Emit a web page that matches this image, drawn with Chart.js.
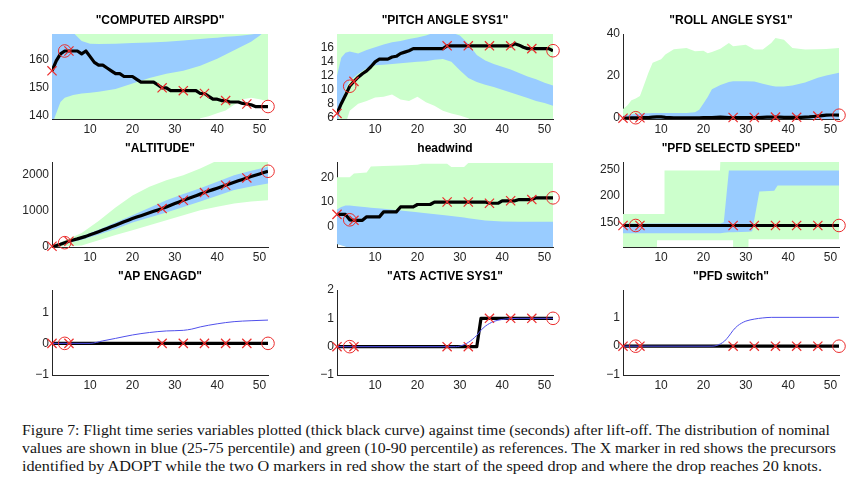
<!DOCTYPE html>
<html><head><meta charset="utf-8">
<script src="https://cdn.jsdelivr.net/npm/chart.js@4.4.1/dist/chart.umd.min.js"></script>
<style>
html,body{margin:0;padding:0;background:#fff;overflow:hidden;}
body{width:865px;height:483px;position:relative;}
#caption{position:absolute;left:22px;top:421px;font-family:"Liberation Serif","DejaVu Serif",serif;font-size:15px;color:#151515;line-height:18px;}
#caption div{white-space:nowrap;transform-origin:0 0;display:block;width:max-content;}
</style></head><body>
<div id="caption">
<div>Figure 7: Flight time series variables plotted (thick black curve) against time (seconds) after lift-off. The distribution of nominal</div>
<div>values are shown in blue (25-75 percentile) and green (10-90 percentile) as references. The X marker in red shows the precursors</div>
<div>identified by ADOPT while the two O markers in red show the start of the speed drop and where the drop reaches 20 knots.</div>
</div>
<script>
// ---------- DATA ----------
const timeSec = [1,2,3,4,5,6,7,8,9,10,11,12,13,14,15,16,17,18,19,20,21,22,23,24,25,26,27,28,29,30,31,32,33,34,35,36,37,38,39,40,41,42,43,44,45,46,47,48,49,50,51,52];
const xTicks = [10,20,30,40,50];
const xMarkTimes = [1,5,27,32,37,42,47];
const oMarkTimes = [4,52];

const titles = ['"COMPUTED AIRSPD"','"PITCH ANGLE SYS1"','"ROLL ANGLE SYS1"','"ALTITUDE"','headwind','"PFD SELECTD SPEED"','"AP ENGAGD"','"ATS ACTIVE SYS1"','"PFD switch"'];

// flight series (thick black curves)
const airspd = [156,159.5,162,163,163,163,163,162,163,161,159,158,158,157,156,155,155,154,154,154,153,152,152,152,152,151,150,150,149,149,149,149,149,149,149,148,148,147,146,146,145.5,145.5,145,145,145,144.5,144.3,144,143.4,143.4,143.4,143.4];
const pitch = [6.6,8.0,9.2,10.5,11.2,11.8,12.3,12.7,13.3,14.0,14.4,14.4,14.4,14.7,14.8,15.2,15.4,15.6,15.9,15.9,15.9,15.9,15.9,15.9,15.9,15.9,16.3,16.3,16.3,16.3,16.3,16.3,16.3,16.3,16.3,16.3,16.3,16.3,16.3,16.3,16.3,16.3,16.6,16.4,16.1,15.9,15.9,15.9,15.9,15.9,15.9,15.6];
const roll = [0,0,0.1,0.2,0.2,0.3,0.3,0.5,0.6,0.6,0.4,0.3,0.2,0.2,0.2,0.2,0.2,0.2,0.2,0.3,0.3,0.3,0.4,0.5,0.4,0.3,0.3,0.3,0.3,0.3,0.3,0.3,0.3,0.4,0.5,0.5,0.5,0.5,0.4,0.4,0.4,0.4,0.4,0.5,0.6,0.8,1.0,1.2,1.4,1.5,1.5,1.4];
const altitude = [0,20,55,100,140,175,205,240,275,320,360,405,450,495,540,585,630,680,725,770,810,850,890,930,970,1010,1047,1093,1140,1185,1230,1278,1320,1362,1405,1448,1491,1532,1573,1613,1653,1694,1735,1776,1817,1857,1898,1935,1972,2009,2046,2083];
const headwind = [5,5,5,2.8,2.6,2.6,2.6,4,4,4,4,6,6,6,6,8,8,8,8,9,9,9,9,10,10,10,10,10,10,10,10,10,10,10,10,10,9.5,9.5,9.5,10.5,10.5,10.5,10.5,11,11,11,11,11.7,11.7,11.7,11.7,11.7];
const pfdSpeed = [144,144,144,144,144,144,144,144,144,144,144,144,144,144,144,144,144,144,144,144,144,144,144,144,144,144,144,144,144,144,144,144,144,144,144,144,144,144,144,144,144,144,144,144,144,144,144,144,144,144,144,144];
const apEngagd = [0,0,0,0,0,0,0,0,0,0,0,0,0,0,0,0,0,0,0,0,0,0,0,0,0,0,0,0,0,0,0,0,0,0,0,0,0,0,0,0,0,0,0,0,0,0,0,0,0,0,0,0];
const atsActive = [0,0,0,0,0,0,0,0,0,0,0,0,0,0,0,0,0,0,0,0,0,0,0,0,0,0,0,0,0,0,0,0,0,0,1,1,1,1,1,1,1,1,1,1,1,1,1,1,1,1,1,1];
const pfdSwitch = [0,0,0,0,0,0,0,0,0,0,0,0,0,0,0,0,0,0,0,0,0,0,0,0,0,0,0,0,0,0,0,0,0,0,0,0,0,0,0,0,0,0,0,0,0,0,0,0,0,0,0,0];

// nominal percentile bands: times, p10, p25, p75, p90
const airBandT = [1,2,3,4,6,8,10,12,16,20,24,28,32,34,36,38,40,42,44,46,48,50,52];
const air10 = [130,130,130,130,130,130,130,130,130,130,130,130,130,130,139.3,140,141,142,144,146,146.5,146,145.3];
const air25 = [137,141,145,146.5,147.5,148,148.3,148.6,149.6,151.5,153.5,155,156,156.9,157.8,159,160.3,161.8,163.3,164.8,166.3,168.4,171];
const air75 = [175,175,175,174,169.5,166.5,165.6,165.5,165.6,165.8,166,166.3,166.7,167,167.2,167.5,167.7,168,168.2,168.5,168.8,169.3,171];
const air90 = [175,175,175,175,175,175,175,175,175,175,175,175,175,175,175,175,175,175,175,175,175,175,175];

const pitchBandT = [1,2,3,4,6,8,10,12,14,16,18,20,22,24,26,28,30,32,34,36,38,40,42,44,46,48,50,52];
const pitch10 = [4,4,5,7,8,8.4,8.9,9.0,9.3,8.6,8.4,9.0,8.2,7.7,7.0,6.6,6.3,5.9,5,5,5,5,5,5,5,5,5,5];
const pitch25 = [5,7.5,10.1,11.3,12.3,13.1,13.5,13.6,13.7,13.8,13.9,14.0,14.1,14.3,14.4,14.0,12.8,11.7,11.1,10.7,10.4,10.0,9.6,9.2,8.8,8.4,8.1,7.7];
const pitch75 = [12,14.6,15.3,15.5,15.2,15.7,16.1,16.5,16.8,17.0,17.3,17.5,17.8,18.2,18.2,18.2,17.8,16.6,15.0,14.2,13.7,13.3,12.9,12.4,11.9,11.5,11.0,10.6];
const pitch90 = [19,19,19,19,19,19,19,19,19,19,19,19,19,19,19,19,19,19,19,19,19,19,19,19,19,19,19,19];

const rollBandT = [1,2,3,4,5,6,7,8,10,11,13,16,18,19,20,21,22,24,26,27,30,32,34,36,37,39,41,44,47,49,52];
const roll10 = [-2,-2,-2,-2,-2,-2,-2,-2,-2,-2,-2,-2,-2,-2,-2,-2,-2,-2,-2,-2,-2,-2,-2,-2,-2,-2,-2,-2,-2,-2,-2];
const roll25 = [-2,-2,-2,-2,-2,-2,-2,-2,-2,-2,-2,-2,-2,-2,-2,-2,-2,-2,-2,-2,-2,-2,-2,-2,-2,-2,-2,-2,-2,-2,-2];
const roll75 = [1.2,1.5,1.8,2,2.2,2.3,2.3,2.4,2.4,2.4,2.5,2.5,2.8,4,7,10,13.7,15.8,17.2,17.5,17.6,17.4,16.4,15.4,15.1,15,15.5,17,19.2,20.3,21.6];
const roll90 = [4.3,6,8.5,9.3,10.5,16,21.6,26.3,28,30.2,32.8,33.4,31.8,31.9,32,30.8,31.5,33,35.7,34.2,34.9,32.6,32.6,35.7,38.1,37.3,33.4,32.6,32.8,32.9,33.4];

const altBandT = [1,4,8,12,16,20,24,28,32,36,40,44,48,52];
const alt10 = [-20,0,20,170,310,445,585,720,860,1000,1100,1190,1240,1280];
const alt25 = [-10,60,180,330,480,660,800,940,1090,1240,1400,1560,1660,1740];
const alt75 = [10,130,280,460,660,860,1070,1280,1450,1610,1790,1970,2100,2210];
const alt90 = [10,160,370,700,1080,1410,1650,1830,1975,2160,2380,2500,2600,2700];

const hwBandT = [1,2,3,4,5,8,9,12,16,20,21,27,28,31,32,36,40,44,48,52];
const hw10 = [-7,-7.5,-8,-10,-10,-10,-10,-10,-10,-10,-10,-10,-10,-10,-10,-10,-10,-10,-10,-10];
const hw25 = [-7,-7.5,-8,-10,-10,-10,-10,-10,-10,-10,-10,-10,-10,-10,-10,-10,-10,-10,-10,-10];
const hw75 = [7,8,8.6,8.6,8.4,7.9,7.7,7.3,6.6,5.9,5.7,4.5,4.3,3.7,3.4,2.5,2.1,2.0,2.0,2.0];
const hw90 = [20,20,20,20,21.5,22,24.4,24.6,24.8,25.1,25.5,25.5,24.2,24.2,25.8,25.8,25.8,25.8,25.8,25.8];

const spdBandT = [1,9,9.05,10.7,10.8,23.9,24,24.8,26,27,27.05,30.6,30.65,31.5,33.2,36.7,37.5,52];
const spd10 = [100,100,116,116,116,116,116,116,116,116,100,100,118,118,118,118,118,118];
const spd25 = [129,129,129,129,129,129,129,130,131,131,131,132,132,133,209,210,220,220];
const spd75 = [148,148,148,148,148,148,148,150,249,249,249,249,249,249,249,249,249,249];
const spd90 = [166,166,166,166,249,249,270,270,270,270,270,270,270,270,270,270,270,270];

// mean of nominal flights (thin blue curve) for binary parameters
const apBlueT = [1,10,13,16,20,24,28,32,34,36,40,44,48,52];
const apBlue = [0,0,0.08,0.16,0.27,0.35,0.40,0.42,0.46,0.53,0.63,0.70,0.73,0.75];
const atsBlueT = [1,29,30,31,32,33,34,35,36,38,40,42,44,52];
const atsBlue = [0,0,0.02,0.07,0.15,0.26,0.40,0.58,0.72,0.89,0.96,0.99,1,1];
const swBlueT = [1,22,23,24,25,26,27,28,29,30,32,34,36,52];
const swBlue = [0,0,0.02,0.08,0.18,0.35,0.55,0.70,0.80,0.87,0.94,0.98,1,1];

// axis ranges and tick labels
const yRanges = [[139,169],[5.8,18],[-0.4,40],[-20,2340],[-8.2,26.2],[103,265],[-1.02,1.72],[-1,2],[-1,1.95]];
const yTicks = [[140,150,160],[6,8,10,12,14,16],[0,20,40],[0,1000,2000],[0,10,20],[150,200,250],[-1,0,1],[-1,0,1,2],[-1,0,1]];

// ---------- DRAWING ----------
const FONT = '"Liberation Sans", Arial, Helvetica, sans-serif';
const GREEN = 'rgb(204,255,204)';
const BLUE = 'rgb(153,204,255)';
const RED = 'rgb(235,45,45)';
const AXIS = '#262626';
const colLeft = [52,337,623];
const rowTop = [34,162,290];

const panels = [
  {series: airspd, bands: {t: airBandT, p10: air10, p25: air25, p75: air75, p90: air90}},
  {series: pitch, bands: {t: pitchBandT, p10: pitch10, p25: pitch25, p75: pitch75, p90: pitch90}},
  {series: roll, bands: {t: rollBandT, p10: roll10, p25: roll25, p75: roll75, p90: roll90}},
  {series: altitude, bands: {t: altBandT, p10: alt10, p25: alt25, p75: alt75, p90: alt90}},
  {series: headwind, bands: {t: hwBandT, p10: hw10, p25: hw25, p75: hw75, p90: hw90}},
  {series: pfdSpeed, bands: {t: spdBandT, p10: spd10, p25: spd25, p75: spd75, p90: spd90}},
  {series: apEngagd, blue: {t: apBlueT, v: apBlue}},
  {series: atsActive, blue: {t: atsBlueT, v: atsBlue}},
  {series: pfdSwitch, blue: {t: swBlueT, v: swBlue}}
];

const fmt = v => (v < 0 ? '\u2212' + Math.abs(v) : String(v));
const pts = (ts, vs) => ts.map((t, i) => ({x: t, y: vs[i]}));

panels.forEach((p, idx) => {
  const L = colLeft[idx % 3], T = rowTop[Math.floor(idx / 3)];
  const cv = document.createElement('canvas');
  cv.width = 320; cv.height = 141;
  cv.style.cssText = 'position:absolute;left:' + (L - 52) + 'px;top:' + (T - 34) + 'px;width:320px;height:141px;';
  document.body.appendChild(cv);

  const ds = [];
  if (p.bands) {
    const b = p.bands;
    const band = (vals, fill, color, order) => ({data: pts(b.t, vals), fill: fill, backgroundColor: color, borderColor: 'transparent', borderWidth: 0, pointRadius: 0, order: order, tension: 0});
    ds.push(band(b.p90, '+1', GREEN, 20));
    ds.push(band(b.p10, false, GREEN, 20));
    ds.push(band(b.p75, '+1', BLUE, 10));
    ds.push(band(b.p25, false, BLUE, 10));
  }
  ds.push({data: pts(timeSec, p.series), borderColor: '#000', borderWidth: 3.2, pointRadius: 0, fill: false, order: 3, tension: 0, borderJoinStyle: 'round'});
  if (p.blue) {
    ds.push({data: pts(p.blue.t, p.blue.v), borderColor: 'rgb(80,80,235)', borderWidth: 1, pointRadius: 0, fill: false, order: 2, cubicInterpolationMode: 'monotone'});
  }
  ds.push({data: xMarkTimes.map(t => ({x: t, y: p.series[timeSec.indexOf(t)]})), showLine: false, pointStyle: 'crossRot', pointRadius: 6.5, pointBorderColor: RED, pointBackgroundColor: RED, pointBorderWidth: 1.2, order: 0, clip: false});
  ds.push({data: oMarkTimes.map(t => ({x: t, y: p.series[timeSec.indexOf(t)]})), showLine: false, pointStyle: 'circle', pointRadius: 6.3, pointBorderColor: RED, pointBackgroundColor: 'rgba(0,0,0,0)', pointBorderWidth: 1, order: 0, clip: false});

  new Chart(cv, {
    type: 'line',
    data: {datasets: ds},
    options: {
      responsive: false, animation: false, devicePixelRatio: 1,
      events: [],
      layout: {padding: 0},
      plugins: {
        legend: {display: false}, tooltip: {enabled: false},
        title: {display: true, text: titles[idx], color: '#000', font: {family: FONT, size: 12, weight: 'bold', lineHeight: 1.2}, padding: {top: 13.5, bottom: 6.1}}
      },
      scales: {
        x: {
          type: 'linear', min: 1, max: 52, bounds: 'data',
          grid: {display: false, drawTicks: false},
          border: {display: true, color: AXIS, width: 1},
          ticks: {font: {family: FONT, size: 12}, color: AXIS, padding: 3, maxRotation: 0, autoSkip: false, callback: v => fmt(v)},
          afterBuildTicks: s => { s.ticks = xTicks.map(v => ({value: v})); },
          afterFit: s => { s.height = 22; }
        },
        y: {
          type: 'linear', position: 'left', min: yRanges[idx][0], max: yRanges[idx][1], bounds: 'data', z: 1,
          grid: {display: false, drawTicks: false},
          border: {display: true, color: AXIS, width: 1},
          ticks: {font: {family: FONT, size: 12}, color: AXIS, padding: 3, autoSkip: false, callback: v => fmt(v)},
          afterBuildTicks: s => { s.ticks = yTicks[idx].map(v => ({value: v})); },
          afterFit: s => { s.width = 52; }
        },
        yRight: {
          type: 'linear', position: 'right', min: 0, max: 1, display: true,
          grid: {display: false, drawTicks: false},
          border: {display: false},
          ticks: {display: false},
          afterFit: s => { s.width = 52; }
        }
      }
    }
  });
});

// fit caption lines to the reference line widths
const capWidths = [808, 814, 800];
document.querySelectorAll('#caption div').forEach((d, i) => {
  const w = d.getBoundingClientRect().width;
  d.style.transform = 'scaleX(' + (capWidths[i] / w) + ')';
});
</script>
</body></html>
